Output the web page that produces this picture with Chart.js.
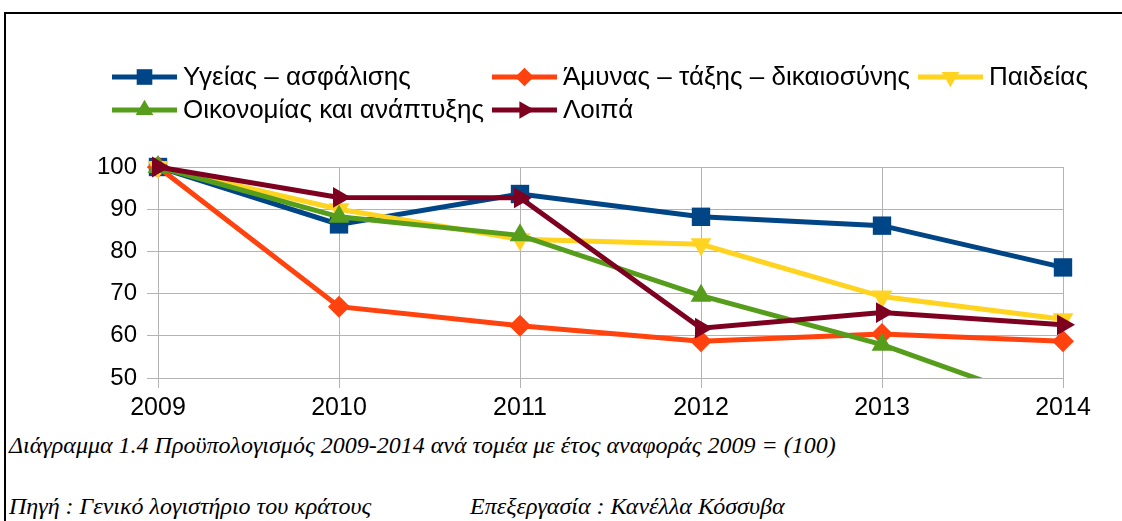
<!DOCTYPE html>
<html>
<head>
<meta charset="utf-8">
<script src="https://cdn.jsdelivr.net/npm/chart.js@4/dist/chart.umd.min.js"></script>
<style>
  html, body { margin: 0; padding: 0; background: #fff; overflow: hidden; }
  #wrap { position: relative; width: 1122px; height: 521px; }
  #frame { position: absolute; left: 4px; top: 12px; width: 1200px; height: 600px;
           border-top: 2px solid #000; border-left: 2px solid #000; }
  #c { position: absolute; left: 0; top: 0; }
  .cap { position: absolute; font: italic 24px "Liberation Serif", "DejaVu Serif", serif;
         color: #000; white-space: pre; }
</style>
</head>
<body>
<div id="wrap">
  <div id="frame"></div>
  <canvas id="c" width="1122" height="430"></canvas>
  <div class="cap" style="top:432px; left:9px">Διάγραμμα 1.4 Προϋπολογισμός 2009-2014 ανά τομέα με έτος αναφοράς 2009 = (100)</div>
  <div class="cap" style="top:493px; left:9px">Πηγή : Γενικό λογιστήριο του κράτους</div>
  <div class="cap" style="top:493px; left:470px">Επεξεργασία : Κανέλλα Κόσσυβα</div>
</div>
<script>
// years and index values (2009 = 100)
const years = ['2009', '2010', '2011', '2012', '2013', '2014'];

const ygeia     = [100, 86.4, 93.6, 88.2, 86.1, 76.2];
const amyna     = [100, 66.9, 62.4, 58.7, 60.4, 58.7];
const paideia   = [100, 90.0, 82.9, 81.7, 69.3, 63.9];
const oikonomia = [100, 88.2, 83.8, 69.5, 57.9, 42.6];
const loipa     = [100, 92.8, 92.7, 61.8, 65.5, 62.6];

const yTicks = [50, 60, 70, 80, 90, 100];

const COLORS = {
    blue: '#004586',
    orange: '#ff420e',
    yellow: '#ffd320',
    green: '#579d1c',
    maroon: '#7e0021'
};

function serie(label, data, color, style, rot, r, order) {
    return {
        label: label,
        data: data,
        borderColor: color,
        backgroundColor: color,
        borderWidth: 5,
        pointStyle: style,
        pointRotation: rot,
        pointRadius: r,
        pointHoverRadius: r,
        pointBorderWidth: 0,
        tension: 0,
        order: order,
        clip: { left: 20, top: 20, right: 20, bottom: 0 }
    };
}

// legend laid out in columns like the original (3 items, then 2)
const gridLegend = {
    id: 'gridLegend',
    afterDraw(chart) {
        const ctx = chart.ctx;
        const sets = chart.data.datasets;
        const rows = [[0, 1, 2], [3, 4]];
        const iconW = 65, gap = 6, colGap = 8;
        ctx.save();
        ctx.font = '26px "Liberation Sans", Arial, sans-serif';
        ctx.textBaseline = 'middle';
        ctx.textAlign = 'left';
        let colW = [];
        rows.forEach(r => r.forEach((idx, c) => {
            const w = iconW + gap + ctx.measureText(sets[idx].label).width;
            colW[c] = Math.max(colW[c] || 0, w);
        }));
        rows.forEach((r, ri) => {
            let x = 112;
            const y = 77 + ri * 33;
            r.forEach((idx, c) => {
                const ds = sets[idx];
                ctx.strokeStyle = ds.borderColor;
                ctx.lineWidth = 5;
                ctx.beginPath();
                ctx.moveTo(x, y);
                ctx.lineTo(x + iconW, y);
                ctx.stroke();
                ctx.fillStyle = ds.backgroundColor;
                Chart.helpers.drawPoint(ctx, {
                    pointStyle: ds.pointStyle,
                    rotation: ds.pointRotation,
                    radius: ds.pointRadius * 0.85,
                    borderWidth: 0
                }, x + iconW / 2, y);
                ctx.fillStyle = '#000';
                ctx.fillText(ds.label, x + iconW + gap, y + 1);
                x += colW[c] + colGap;
            });
        });
        ctx.restore();
    }
};

const ctx = document.getElementById('c').getContext('2d');

const chart = new Chart(ctx, {
    type: 'line',
    data: {
        labels: years,
        datasets: [
            serie('Υγείας – ασφάλισης', ygeia, COLORS.blue, 'rect', 0, 13, 5),
            serie('Άμυνας – τάξης – δικαιοσύνης', amyna, COLORS.orange, 'rectRot', 0, 11, 4),
            serie('Παιδείας', paideia, COLORS.yellow, 'triangle', 180, 12, 3),
            serie('Οικονομίας και ανάπτυξης', oikonomia, COLORS.green, 'triangle', 0, 12, 2),
            serie('Λοιπά', loipa, COLORS.maroon, 'triangle', 90, 12, 1)
        ]
    },
    options: {
        responsive: false,
        animation: false,
        layout: {
            padding: { left: 0, right: 59, top: 167, bottom: 7 }
        },
        plugins: {
            legend: { display: false },
            tooltip: { enabled: false }
        },
        scales: {
            x: {
                offset: false,
                grid: {
                    color: '#b3b3b3',
                    lineWidth: 1,
                    tickLength: 10
                },
                border: { color: '#b3b3b3' },
                ticks: {
                    color: '#000',
                    padding: 5,
                    maxRotation: 0,
                    font: { family: '"Liberation Sans", Arial, sans-serif', size: 25 }
                },
                afterFit: function (scale) { scale.height = 45; }
            },
            y: {
                min: 50,
                max: 100,
                afterBuildTicks: function (scale) {
                    scale.ticks = yTicks.map(v => ({ value: v }));
                },
                grid: {
                    color: '#b3b3b3',
                    lineWidth: 1,
                    tickLength: 11
                },
                border: { color: '#b3b3b3' },
                ticks: {
                    color: '#000',
                    padding: 10,
                    font: { family: '"Liberation Sans", Arial, sans-serif', size: 24 }
                },
                afterFit: function (scale) { scale.width = 158; }
            }
        }
    },
    plugins: [gridLegend]
});
</script>
</body>
</html>
